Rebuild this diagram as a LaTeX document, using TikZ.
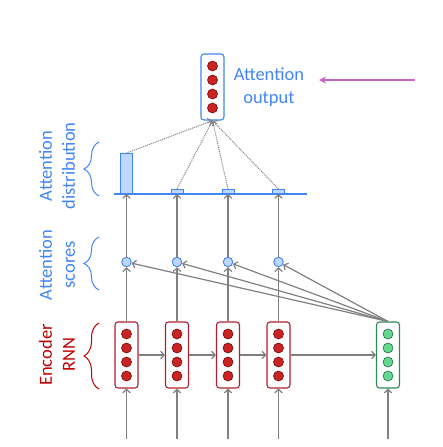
\documentclass[tikz,border=0pt]{standalone}
\usepackage{fontspec}
\setmainfont{Carlito}
\usetikzlibrary{positioning,arrows.meta,decorations.pathreplacing}

\definecolor{attnblue}{RGB}{66,133,244}
\definecolor{attnfill}{RGB}{190,215,255}
\definecolor{encred}{RGB}{192,0,0}
\definecolor{cellred}{RGB}{176,30,50}
\definecolor{dotred}{RGB}{200,36,36}
\definecolor{dotdark}{RGB}{120,10,10}
\definecolor{decgreen}{RGB}{50,135,90}
\definecolor{dotgreen}{RGB}{100,215,145}
\definecolor{arrowgray}{RGB}{128,128,128}
\definecolor{outpink}{RGB}{200,100,200}

\newcommand{\labfont}{\fontsize{18.5}{23}\selectfont}

\begin{document}
\begin{tikzpicture}[x=1pt, y=-1pt,
  >={Straight Barb[length=3.5pt,width=7.5pt]},
  cell/.style={draw, rounded corners=3pt, line width=1.1pt, fill=white, minimum width=23pt, minimum height=66pt, inner sep=0pt},
  dot/.style={circle, draw, line width=0.6pt, minimum size=10pt, inner sep=0pt},
  score/.style={circle, draw=attnblue, fill=attnfill, line width=0.9pt, minimum size=9.5pt, inner sep=0pt},
  bar/.style={rectangle, draw=attnblue, fill=attnfill, line width=1pt, minimum width=12pt, inner sep=0pt, anchor=south},
  link/.style={draw=arrowgray, line width=1.2pt, ->},
  sidelabel/.style={rotate=90, align=center, font=\labfont},
  sidebrace/.style={line width=1pt, decorate, decoration={brace, amplitude=15pt}}]
\useasboundingbox (0,0) rectangle (443,447);

% encoder cells, scores and bars
\foreach \i/\x/\h in {1/126.5/40, 2/177/4, 3/228/4, 4/278.5/4} {
  \node[cell, draw=cellred] (e\i) at (\x,355) {};
  \foreach \k in {1,...,4}
    \node[dot, draw=dotdark, fill=dotred] at (\x,{334+14*(\k-1)}) {};
  \node[score] (s\i) at (\x,262) {};
  \node[bar, minimum height=\h pt] (b\i) at (\x,194) {};
  \coordinate (in\i) at (\x,439);
}

% decoder cell
\node[cell, draw=decgreen] (d) at (388,355) {};
\foreach \k in {1,...,4}
  \node[dot, draw=decgreen!80!black, fill=dotgreen] at (388,{334+14*(\k-1)}) {};
\coordinate (in5) at (388,439);

% attention output
\node[cell, draw=attnblue] (out) at (212.5,87) {};
\foreach \k in {1,...,4}
  \node[dot, draw=dotdark, fill=dotred] at (212.5,{66+14*(\k-1)}) {};
\node[right=9pt of out, inner sep=0pt, align=center, text=attnblue, font=\labfont] (outlab) {Attention\\output};
\coordinate (pinkstart) at (415,80);
\coordinate (pinkend) at (319,80);
\draw[outpink, line width=1.4pt, -{Stealth[length=7pt,width=7pt]}] (pinkstart) -- (pinkend);

% baseline of the distribution
\draw[attnblue, line width=1.2pt] (114,194) -- (307,194);

% connectors
\foreach \i in {1,...,4} {
  \draw[link] (in\i) -- (e\i.south);
  \draw[link] (e\i.north) -- (s\i.south);
  \draw[link] (s\i.north) -- (b\i.south);
  \draw[link] (d.north) -- (s\i);
  \draw[arrowgray, line width=1pt, densely dotted, ->] (b\i.north) -- (out.south);
}
\draw[link] (in5) -- (d.south);
\draw[link] (e1) -- (e2);
\draw[link] (e2) -- (e3);
\draw[link] (e3) -- (e4);
\draw[link] (e4) -- (d);

% side labels
\node[sidelabel, text=attnblue] (distlab) at (57,166) {Attention\\distribution};
\node[sidelabel, text=attnblue] (scorelab) at (57,265) {Attention\\scores};
\node[sidelabel, text=encred] (enclab) at (57,355) {Encoder\\RNN};
\draw[sidebrace, attnblue] (99,196) -- (99,142);
\draw[sidebrace, attnblue] (99,290) -- (99,237);
\draw[sidebrace, encred] (99,389) -- (99,323);
\end{tikzpicture}
\end{document}
